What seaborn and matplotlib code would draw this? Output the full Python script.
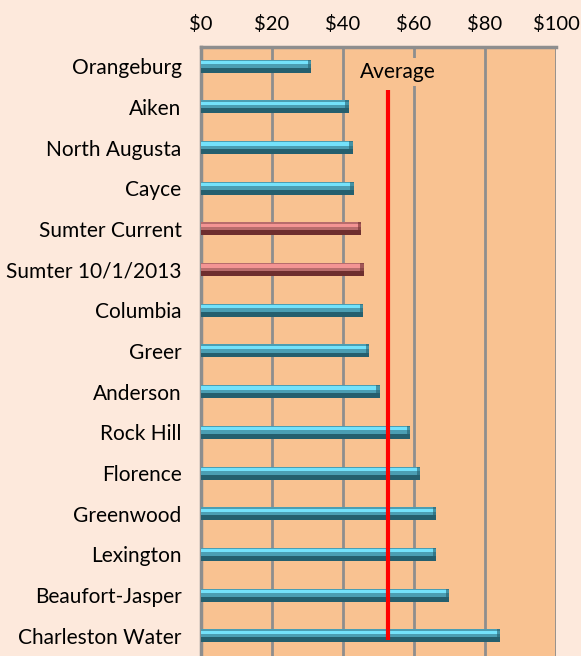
import pandas as pd
import matplotlib.pyplot as plt
import seaborn as sns
from matplotlib.patches import Rectangle

utilities = ["Orangeburg", "Aiken", "North Augusta", "Cayce", "Sumter Current",
             "Sumter 10/1/2013", "Columbia", "Greer", "Anderson", "Rock Hill",
             "Florence", "Greenwood", "Lexington", "Beaufort-Jasper", "Charleston Water"]
bills = [30.9, 41.6, 42.7, 43.0, 45.1, 45.8, 45.7, 47.4, 50.3, 58.9,
         61.7, 66.2, 66.2, 69.9, 84.2]
is_sumter = [False, False, False, False, True, True, False, False, False, False,
             False, False, False, False, False]
average = 52.6
x_ticks = [0, 20, 40, 60, 80, 100]

df = pd.DataFrame({"utility": utilities, "bill": bills,
                   "group": ["sumter" if s else "other" for s in is_sumter]})

fig_bg = "#fde9dc"
plot_bg = "#f9c291"
grid_c = "#8e8e8e"

sns.set_style("white")
plt.rcParams["font.family"] = ["Lato", "DejaVu Sans"]

fig = plt.figure(figsize=(5.81, 6.56), dpi=100, facecolor=fig_bg)
ax = fig.add_axes([201 / 581, -0.03, 355 / 581, 1 - 47 / 656 + 0.03])
ax.set_facecolor(plot_bg)

pal = {"other": "#3aa9c4", "sumter": "#c45f5f"}
dark = {"other": "#255f6e", "sumter": "#6e2e2e"}
light = {"other": "#74e2fb", "sumter": "#f39494"}

sns.barplot(data=df, x="bill", y="utility", hue="group", palette=pal,
            width=0.32, dodge=False, legend=False, ax=ax, zorder=3,
            edgecolor="none")

# fake 3D shading on each bar (match patch to its row by position)
for patch in list(ax.patches):
    x0, y0 = patch.get_x(), patch.get_y()
    w, h = patch.get_width(), patch.get_height()
    if w <= 0:
        continue
    grp = df["group"].iloc[int(round(y0 + h / 2))]
    ax.add_patch(Rectangle((x0, y0 + h * 0.62), w, h * 0.38, color=dark[grp], zorder=4, lw=0))
    ax.add_patch(Rectangle((x0, y0 + h * 0.1), w, h * 0.25, color=light[grp], zorder=4, lw=0))
    ax.add_patch(Rectangle((x0 + w - 0.9, y0), 0.9, h, color=dark[grp], zorder=4, lw=0, alpha=0.6))

ax.vlines(average, 0.59, 14.1, color="#ff0000", lw=3, zorder=5)
ax.text(55.5, 0.14, "Average", fontsize=15, ha="center", va="center", color="black",
        zorder=6, bbox=dict(facecolor=plot_bg, edgecolor="none", pad=3))

ax.set_xlim(0, 100)
ax.set_ylim(14.98, -0.47)
ax.set_xticks(x_ticks)
ax.set_xticklabels([f"${t}" for t in x_ticks])
ax.xaxis.tick_top()
ax.tick_params(axis="x", length=0, pad=10, labelsize=14.5, labelcolor="black")
ax.tick_params(axis="y", length=0, pad=14, labelsize=15, labelcolor="black")
ax.grid(axis="x", color=grid_c, lw=2, zorder=1)
ax.set_axisbelow(True)
ax.set_xlabel("")
ax.set_ylabel("")

for side in ["right", "bottom"]:
    ax.spines[side].set_visible(False)
for side in ["top", "left"]:
    ax.spines[side].set_color(grid_c)
    ax.spines[side].set_linewidth(2.5)

fig.savefig("out.png", dpi=100, facecolor=fig_bg)
